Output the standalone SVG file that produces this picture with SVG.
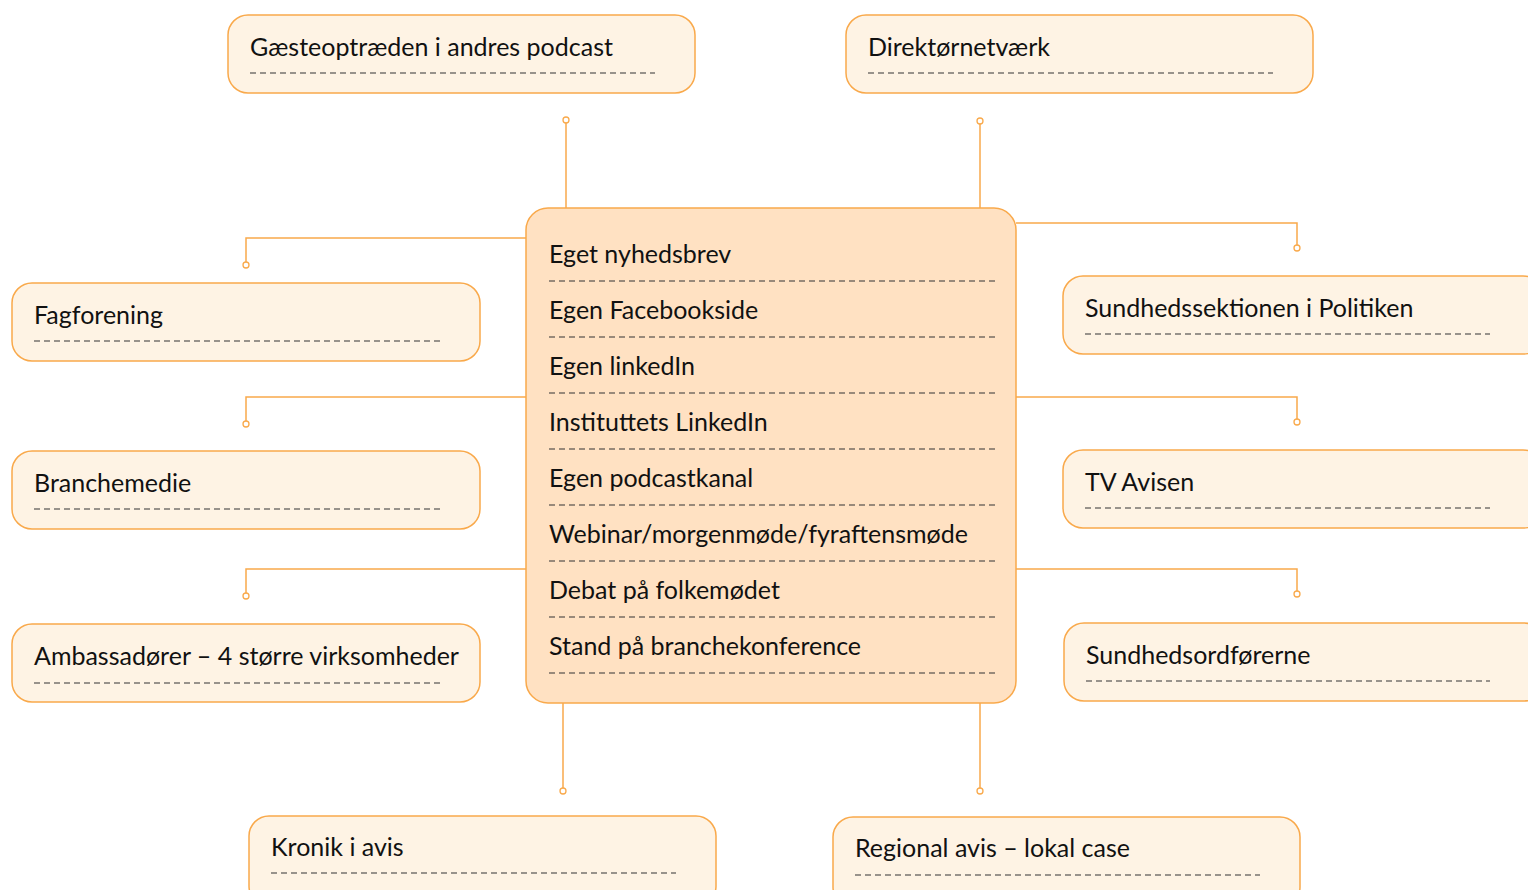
<svg xmlns="http://www.w3.org/2000/svg" width="1528" height="890" viewBox="0 0 1528 890">
<style>
.box{fill:#FEF3E4;stroke:#F9A94B;stroke-width:1.5}
.main{fill:#FFE1C2;stroke:#F9A94B;stroke-width:1.5}
.t{font-family:Lato,"Noto Sans",sans-serif;font-size:25px;fill:#111}
.d{stroke:#333;stroke-width:1.2;stroke-dasharray:6 4;fill:none}
.c{stroke:#F9A94B;stroke-width:1.5;fill:none}
.dot{fill:#fff;stroke:#F9A94B;stroke-width:1.3}
</style>
<rect width="1528" height="890" fill="#fff"/>
<g id="connectors">
<path class="c" d="M566 208V120"/><circle class="dot" cx="566" cy="120" r="3"/>
<path class="c" d="M980 208V121"/><circle class="dot" cx="980" cy="121" r="3"/>
<path class="c" d="M526 238H246V265"/><circle class="dot" cx="246" cy="265" r="3"/>
<path class="c" d="M526 397H246V424"/><circle class="dot" cx="246" cy="424" r="3"/>
<path class="c" d="M526 569H246V596"/><circle class="dot" cx="246" cy="596" r="3"/>
<path class="c" d="M1016 223H1297V248"/><circle class="dot" cx="1297" cy="248" r="3"/>
<path class="c" d="M1016 397H1297V422"/><circle class="dot" cx="1297" cy="422" r="3"/>
<path class="c" d="M1016 569H1297V594"/><circle class="dot" cx="1297" cy="594" r="3"/>
<path class="c" d="M563 703V791"/><circle class="dot" cx="563" cy="791" r="3"/>
<path class="c" d="M980 703V791"/><circle class="dot" cx="980" cy="791" r="3"/>
</g>
<g id="central">
<rect class="main" x="526" y="208" width="490" height="495" rx="22"/>
<text class="t" x="549" y="263">Eget nyhedsbrev</text><path class="d" d="M549 281H998"/>
<text class="t" x="549" y="319">Egen Facebookside</text><path class="d" d="M549 337H998"/>
<text class="t" x="549" y="375">Egen linkedIn</text><path class="d" d="M549 393H998"/>
<text class="t" x="549" y="431">Instituttets LinkedIn</text><path class="d" d="M549 449H998"/>
<text class="t" x="549" y="487">Egen podcastkanal</text><path class="d" d="M549 505H998"/>
<text class="t" x="549" y="543">Webinar/morgenmøde/fyraftensmøde</text><path class="d" d="M549 561H998"/>
<text class="t" x="549" y="599">Debat på folkemødet</text><path class="d" d="M549 617H998"/>
<text class="t" x="549" y="655">Stand på branchekonference</text><path class="d" d="M549 673H998"/>
</g>
<g id="n1"><rect class="box" x="228" y="15" width="467" height="78" rx="20"/><text class="t" x="250" y="56">Gæsteoptræden i andres podcast</text><path class="d" d="M250 73H655"/></g>
<g id="n2"><rect class="box" x="846" y="15" width="467" height="78" rx="20"/><text class="t" x="868" y="56">Direktørnetværk</text><path class="d" d="M868 73H1273"/></g>
<g id="n3"><rect class="box" x="12" y="283" width="468" height="78" rx="20"/><text class="t" x="34" y="324">Fagforening</text><path class="d" d="M34 341H440"/></g>
<g id="n4"><rect class="box" x="12" y="451" width="468" height="78" rx="20"/><text class="t" x="34" y="492">Branchemedie</text><path class="d" d="M34 509H440"/></g>
<g id="n5"><rect class="box" x="12" y="624" width="468" height="78" rx="20"/><text class="t" x="34" y="665">Ambassadører – 4 større virksomheder</text><path class="d" d="M34 683H440"/></g>
<g id="n6"><rect class="box" x="1063" y="276" width="480" height="78" rx="20"/><text class="t" x="1085" y="317">Sundhedssektionen i Politiken</text><path class="d" d="M1085 334H1490"/></g>
<g id="n7"><rect class="box" x="1063" y="450" width="480" height="78" rx="20"/><text class="t" x="1085" y="491">TV Avisen</text><path class="d" d="M1085 508H1490"/></g>
<g id="n8"><rect class="box" x="1064" y="623" width="480" height="78" rx="20"/><text class="t" x="1086" y="664">Sundhedsordførerne</text><path class="d" d="M1086 681H1490"/></g>
<g id="n9"><rect class="box" x="249" y="816" width="467" height="90" rx="20"/><text class="t" x="271" y="856">Kronik i avis</text><path class="d" d="M271 873H676"/></g>
<g id="n10"><rect class="box" x="833" y="817" width="467" height="90" rx="20"/><text class="t" x="855" y="857">Regional avis – lokal case</text><path class="d" d="M855 875H1260"/></g>
</svg>
